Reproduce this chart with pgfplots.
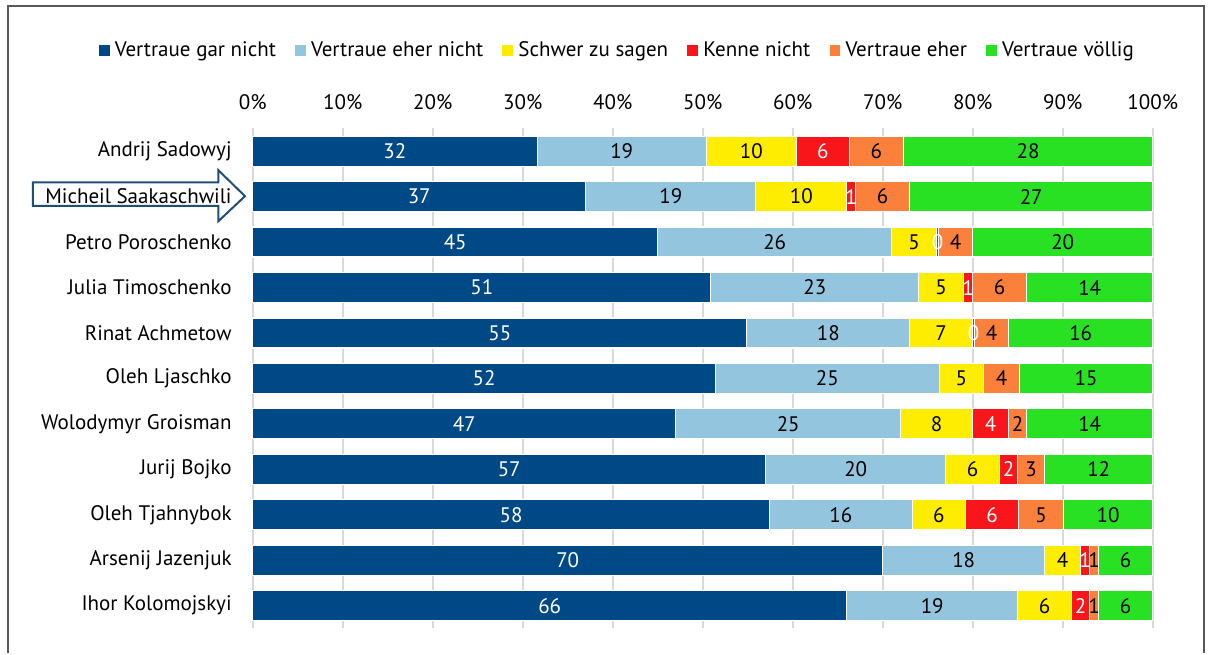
\documentclass[border=0pt]{standalone}
\usepackage{fontspec}
\setmainfont{PT Sans}
\usepackage{pgfplots}
\usepackage{pgfplotstable}
\pgfplotsset{compat=1.18}

\definecolor{cgar}{RGB}{0,73,135}
\definecolor{ceherN}{RGB}{147,198,222}
\definecolor{cschwer}{RGB}{255,237,0}
\definecolor{ckenne}{RGB}{248,22,26}
\definecolor{ceher}{RGB}{250,128,60}
\definecolor{cvoll}{RGB}{40,225,35}
\definecolor{carrow}{RGB}{31,78,121}

% y = Zeile, v = Anteil (aus Balkenlaenge), l = Beschriftung
\pgfplotstableread{
y v l
0 31.6 32
1 37.0 37
2 45.0 45
3 50.9 51
4 54.9 55
5 51.4 52
6 47.0 47
7 57.0 57
8 57.4 58
9 70.0 70
10 66.0 66
}\gar
\pgfplotstableread{
y v l
0 18.8 19
1 18.9 19
2 26.0 26
3 23.1 23
4 18.1 18
5 24.9 25
6 25.0 25
7 20.0 20
8 15.9 16
9 18.0 18
10 19.0 19
}\ehernicht
\pgfplotstableread{
y v l
0 10.0 10
1 10.1 10
2 5.0 5
3 5.0 5
4 7.0 7
5 4.9 5
6 8.0 8
7 6.0 6
8 5.9 6
9 4.0 4
10 6.0 6
}\schwer
\pgfplotstableread{
y v l
0 5.9 6
1 1.0 1
2 0.2 0
3 1.0 1
4 0.2 0
5 0.0 {}
6 4.0 4
7 2.0 2
8 5.9 6
9 1.0 1
10 2.0 2
}\kenne
\pgfplotstableread{
y v l
0 6.0 6
1 6.0 6
2 3.8 4
3 6.0 6
4 3.8 4
5 4.0 4
6 2.0 2
7 3.0 3
8 5.0 5
9 1.0 1
10 1.0 1
}\eher
\pgfplotstableread{
y v l
0 27.7 28
1 27.0 27
2 20.0 20
3 14.0 14
4 16.0 16
5 14.8 15
6 14.0 14
7 12.0 12
8 9.9 10
9 6.0 6
10 6.0 6
}\voellig

\begin{document}
\begin{tikzpicture}
\begin{axis}[
  xbar stacked,
  scale only axis,
  width=450pt, height=250pt,
  xmin=0, xmax=100,
  ymin=-0.5, ymax=10.5,
  y dir=reverse,
  bar width=15pt,
  clip=false,
  axis line style={draw=none},
  major tick length=0pt,
  xtick={0,10,...,100},
  xticklabel pos=upper,
  xticklabel={\pgfmathprintnumber{\tick}\%},
  xticklabel style={yshift=6pt},
  ytick={0,...,10},
  yticklabels={Andrij Sadowyj, Micheil Saakaschwili, Petro Poroschenko,
    Julia Timoschenko, Rinat Achmetow, Oleh Ljaschko, Wolodymyr Groisman,
    Jurij Bojko, Oleh Tjahnybok, Arsenij Jazenjuk, Ihor Kolomojskyi},
  yticklabel style={xshift=-7pt},
  tick label style={font=\fontsize{10.5}{12}\selectfont},
  /pgf/number format/assume math mode=true,
  xmajorgrids,
  grid style={draw=gray!30, line width=0.9pt},
  point meta=explicit symbolic,
  nodes near coords,
  every node near coord/.append style={anchor=center,
    font=\fontsize{10.5}{12}\selectfont},
  every axis plot/.append style={draw=white, line width=0.6pt},
  legend columns=6,
  legend style={draw=none, at={(0.4056,1.156)}, anchor=center,
    font=\fontsize{10.5}{12}\selectfont,
    /tikz/every even column/.append style={column sep=7pt}},
  legend image code/.code={\fill[#1] (0pt,-3pt) rectangle (6pt,3pt);},
]
\addplot[fill=cgar, every node near coord/.append style={text=white}] table[x=v, y=y, meta=l] {\gar};
\addlegendentry{Vertraue gar nicht}
\addplot[fill=ceherN] table[x=v, y=y, meta=l] {\ehernicht};
\addlegendentry{Vertraue eher nicht}
\addplot[fill=cschwer] table[x=v, y=y, meta=l] {\schwer};
\addlegendentry{Schwer zu sagen}
\addplot[fill=ckenne, every node near coord/.append style={text=white}] table[x=v, y=y, meta=l] {\kenne};
\addlegendentry{Kenne nicht}
\addplot[fill=ceher] table[x=v, y=y, meta=l] {\eher};
\addlegendentry{Vertraue eher}
\addplot[fill=cvoll] table[x=v, y=y, meta=l] {\voellig};
\addlegendentry{Vertraue völlig}

% Pfeil um den Namen Saakaschwili
\draw[carrow, line width=1pt, line join=miter]
  (axis cs:-24.44,0.689) -- (axis cs:-3.82,0.689) -- (axis cs:-3.82,0.418)
  -- (axis cs:-0.86,0.99) -- (axis cs:-3.82,1.542) -- (axis cs:-3.82,1.205)
  -- (axis cs:-24.44,1.205) -- cycle;
% Rahmen
\draw[gray!70!black, line width=0.8pt]
  (axis cs:-27.19,11.05) -- (axis cs:-27.19,-3.19) -- (axis cs:105.7,-3.19) -- (axis cs:105.7,11.05);
% Bildgrenzen
\path (axis cs:-28.08,-3.326) rectangle (axis cs:106.81,11.057);
\end{axis}
\end{tikzpicture}
\end{document}
